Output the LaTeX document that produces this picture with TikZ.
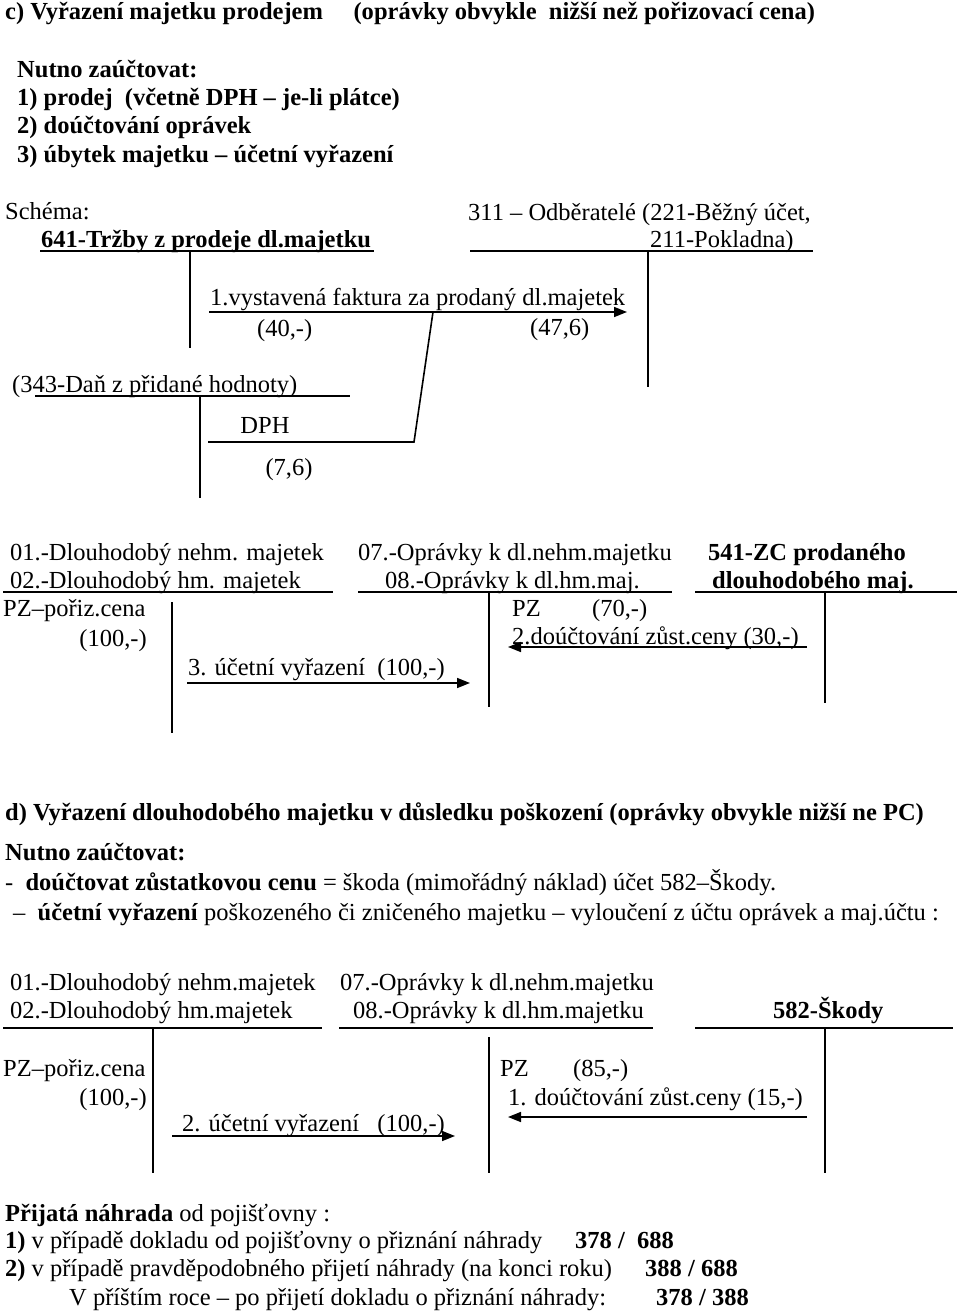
\documentclass[tikz,border=0pt]{standalone}
\usepackage{fontspec}
\setmainfont{Liberation Serif}
\usetikzlibrary{arrows.meta}
\newcommand{\fsz}{\fontsize{24.5}{28}\selectfont}
\begin{document}
\begin{tikzpicture}[x=1pt,y=-1pt,
  txt/.style={anchor=base west,inner sep=0pt,font=\fsz},
  txtr/.style={anchor=base east,inner sep=0pt,font=\fsz},
  txtc/.style={anchor=base,inner sep=0pt,font=\fsz},
  bx/.style={anchor=base west,inner sep=0pt,font=\fsz\bfseries},
  acc/.style={line width=1.6pt},
  arr/.style={line width=1.6pt,-{Triangle[length=13pt,width=10pt]}}]
\useasboundingbox (0,0) rectangle (960,1311);
% ---------- section c ----------
\node[bx] (tc) at (5,20) {c) Vyřazení majetku prodejem\quad\ (oprávky obvykle\ \ nižší než pořizovací cena)};
\node[bx] (n1) at (17,78) {Nutno zaúčtovat:};
\node[bx] (n2) at (17,106) {1) prodej\ \ (včetně DPH – je-li plátce)};
\node[bx] (n3) at (17,134) {2) doúčtování oprávek};
\node[bx] (n4) at (17,162) {3) úbytek majetku – účetní vyřazení};
\node[txt] (sch) at (5,219) {Schéma:};
\node[bx] (a641) at (41,247) {641-Tržby z prodeje dl.majetku};
\draw[acc] (40,251) -- (374,251);
\draw[acc] (190,251) -- (190,348);
\node[txt] (a311) at (468,220) {311 – Odběratelé (221-Běžný účet,};
\node[txt] (a311b) at (650,247) {211-Pokladna)};
\draw[acc] (470,251) -- (813,251);
\draw[acc] (648,251) -- (648,387);
\node[txt] (f1) at (210,305) {1.vystavená faktura za prodaný dl.majetek};
\coordinate (f1s) at (209,312);
\coordinate (f1e) at (627,312);
\draw[arr] (f1s) -- (f1e);
\node[txt] (v40) at (257,336) {(40,-)};
\node[txt] (v47) at (530,335) {(47,6)};
\coordinate (sl1) at (433,312);
\coordinate (sl2) at (414,442);
\draw[acc] (sl1) -- (sl2) -- (208,442);
\node[txt] (a343) at (12,392) {(343-Daň z přidané hodnoty)};
\draw[acc] (35,396) -- (350,396);
\draw[acc] (200,396) -- (200,498);
\node[txtc] (dph) at (265,433) {DPH};
\node[txtc] (v76) at (289,475) {(7,6)};
% ---------- accounts 01/07/541 ----------
\node[txt] (a01) at (10,560) {01.-Dlouhodobý nehm. majetek};
\node[txt] (a02) at (10,588) {02.-Dlouhodobý hm. majetek};
\draw[acc] (3,592) -- (333,592);
\draw[acc] (172,602) -- (172,733);
\node[txt] (pz1) at (3,616) {PZ–pořiz.cena};
\node[txtr] (v100) at (147,646) {(100,-)};
\node[txt] (u3) at (188,675) {3. účetní vyřazení\ \ (100,-)};
\draw[arr] (187,683) -- (470,683);
\node[txt] (a07) at (358,560) {07.-Oprávky k dl.nehm.majetku};
\node[txt] (a08) at (385,588) {08.-Oprávky k dl.hm.maj.};
\draw[acc] (358,592) -- (672,592);
\draw[acc] (489,592) -- (489,707);
\node[txt] (pz2) at (512,616) {PZ};
\node[txt] (v70) at (592,616) {(70,-)};
\node[txt] (d2) at (512,644) {2.doúčtování zůst.ceny (30,-)};
\draw[arr] (807,647) -- (508,647);
\node[bx] (a541) at (708,560) {541-ZC prodaného};
\node[bx] (a541b) at (712,588) {dlouhodobého maj.};
\draw[acc] (695,592) -- (957,592);
\draw[acc] (825,592) -- (825,703);
% ---------- section d ----------
\node[bx] (td) at (5,820) {d) Vyřazení dlouhodobého majetku v důsledku poškození (oprávky obvykle nižší ne PC)};
\node[bx] (dn) at (5,860) {Nutno zaúčtovat:};
\node[txt] (dl1) at (5,890) {-\ \ \textbf{doúčtovat zůstatkovou cenu} = škoda (mimořádný náklad) účet 582–Škody.};
\node[txt] (dl2) at (13,920) {–\ \ \textbf{účetní vyřazení} poškozeného či zničeného majetku – vyloučení z účtu oprávek a maj.účtu :};
\node[txt] (b01) at (10,990) {01.-Dlouhodobý nehm.majetek};
\node[txt] (b02) at (10,1018) {02.-Dlouhodobý hm.majetek};
\draw[acc] (3,1028) -- (322,1028);
\draw[acc] (153,1028) -- (153,1173);
\node[txt] (pz3) at (3,1076) {PZ–pořiz.cena};
\node[txtr] (w100) at (147,1105) {(100,-)};
\node[txt] (u2) at (182,1131) {2. účetní vyřazení\ \ \ (100,-)};
\draw[arr] (172,1136) -- (455,1136);
\node[txt] (b07) at (340,990) {07.-Oprávky k dl.nehm.majetku};
\node[txt] (b08) at (353,1018) {08.-Oprávky k dl.hm.majetku};
\draw[acc] (339,1028) -- (653,1028);
\draw[acc] (489,1037) -- (489,1173);
\node[bx] (b582) at (773,1018) {582-Škody};
\draw[acc] (695,1028) -- (953,1028);
\draw[acc] (825,1028) -- (825,1173);
\node[txt] (pz4) at (500,1076) {PZ};
\node[txt] (w85) at (573,1076) {(85,-)};
\node[txt] (d1) at (508,1105) {1. doúčtování zůst.ceny (15,-)};
\draw[arr] (807,1117) -- (508,1117);
% ---------- bottom ----------
\node[txt] (p0) at (5,1221) {\textbf{Přijatá náhrada} od pojišťovny :};
\node[txt] (p1) at (5,1248) {\textbf{1)} v případě dokladu od pojišťovny o přiznání náhrady};
\node[bx] (p1n) at (575,1248) {378 /\ \ 688};
\node[txt] (p2) at (5,1276) {\textbf{2)} v případě pravděpodobného přijetí náhrady (na konci roku)};
\node[bx] (p2n) at (645,1276) {388 / 688};
\node[txt] (p3) at (69,1305) {V příštím roce – po přijetí dokladu o přiznání náhrady:};
\node[bx] (p3n) at (656,1305) {378 / 388};
\end{tikzpicture}
\end{document}
